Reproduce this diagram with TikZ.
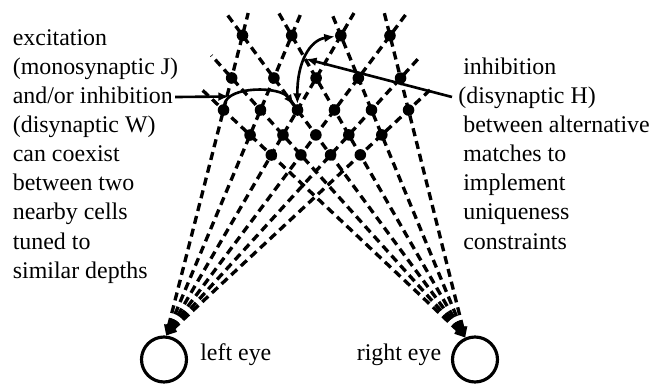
\documentclass[tikz,border=0pt]{standalone}
\usepackage{fontspec}
\setmainfont{Liberation Serif}
\usetikzlibrary{calc,arrows.meta}
\begin{document}
\begin{tikzpicture}[x=0.02cm,y=-0.02cm,
  ray/.style={line width=1.9pt, dash pattern=on 4.6pt off 2.9pt},
  dot/.style={circle, fill=black, inner sep=0pt, minimum size=6.6pt},
  eye/.style={circle, draw, line width=1.8pt, inner sep=0pt, minimum size=0.9cm},
  lbl/.style={anchor=base west, inner sep=0pt, font=\fontsize{13.6pt}{16pt}\selectfont},
  link/.style={line width=1.5pt},
  eyetip/.style={{Triangle[length=6pt,width=5pt]}-},
  head/.style={-{Latex[length=6pt,width=5pt]}},
  heads/.style={{Latex[length=6pt,width=5pt]}-{Latex[length=6pt,width=5pt]}}
]
\fill[white] (0,0) rectangle (650,389);
\useasboundingbox (0,0) rectangle (650,389);

% eyes
\node[eye] (leye) at (164,359.5) {};
\node[eye] (reye) at (475,359.5) {};
\coordinate (L) at (leye.85);
\coordinate (R) at (reye.114);

% reference points on the middle row
\foreach \k/\x in {1/223.5,2/260.5,3/297.5,4/334.5,5/371.5,6/408.5}
  \coordinate (P\k) at (\x,110);

% lines of sight
\foreach \i/\u in {1/1.43,2/1.43,3/1.43,4/1.43,5/1.24,6/1.10}
  \draw[ray,eyetip] (L) -- ($(L)!\u!(P\i)$);
\foreach \j/\u in {1/1.10,2/1.24,3/1.43,4/1.43,5/1.43,6/1.43}
  \draw[ray,eyetip] (R) -- ($(R)!\u!(P\j)$);

% cells
\foreach \i/\j in {1/3,2/4,3/5,4/6,
                   1/2,2/3,3/4,4/5,5/6,
                   1/1,2/2,3/3,4/4,5/5,6/6,
                   2/1,3/2,4/3,5/4,6/5,
                   3/1,4/2,5/3,6/4}
  \node[dot] (d\i\j) at (intersection cs: first line={(L)--(P\i)}, second line={(R)--(P\j)}) {};

% connections
\draw[link,head] (d11) .. controls (228,86) and (280,86) .. (d33);
\draw[link,heads] (d33) .. controls (297,62) and (310,40) .. (d35);

% left text
\node[lbl] (t1) at (12.5,45.3) {excitation};
\node[lbl] (t2) at (12.5,74.4) {(monosynaptic J)};
\node[lbl] (t3) at (12.5,103.5) {and/or inhibition};
\node[lbl] (t4) at (12.5,132.6) {(disynaptic W)};
\node[lbl] (t5) at (12.5,161.7) {can coexist};
\node[lbl] (t6) at (12.5,190.8) {between two};
\node[lbl] (t7) at (12.5,219.9) {nearby cells};
\node[lbl] (t8) at (12.5,249.0) {tuned to};
\node[lbl] (t9) at (12.5,278.1) {similar depths};

% right text
\node[lbl] (u1) at (463,74.4) {inhibition};
\node[lbl] (u2) at (458,103.5) {(disynaptic H)};
\node[lbl] (u3) at (463,132.6) {between alternative};
\node[lbl] (u4) at (463,161.7) {matches to};
\node[lbl] (u5) at (463,190.8) {implement};
\node[lbl] (u6) at (463,219.9) {uniqueness};
\node[lbl] (u7) at (463,249.0) {constraints};

% eye labels
\node[lbl] (le) at (200,360.5) {left eye};
\node[lbl] (re) at (356.5,360.5) {right eye};

% pointers
\coordinate (p1a) at ($(t3.base east)+(2,-6.5)$);
\coordinate (p1b) at (229,96.5);
\draw[link,head] (p1a) -- (p1b);
\coordinate (p2a) at ($(u2.base west)+(-6,-6.5)$);
\coordinate (p2b) at (306,59);
\draw[link,head] (p2a) -- (p2b);
\end{tikzpicture}
\end{document}
